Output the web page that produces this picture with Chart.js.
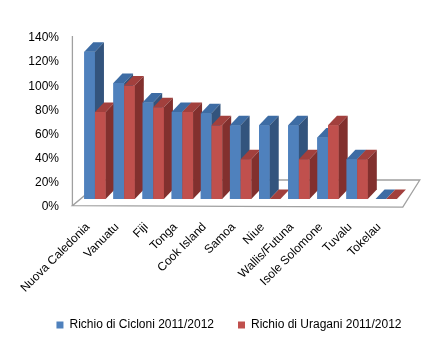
<!DOCTYPE html>
<html><head><meta charset="utf-8">
<script src="https://cdn.jsdelivr.net/npm/chart.js@4/dist/chart.umd.min.js"></script>
<style>html,body{margin:0;padding:0;background:#fff}#wrap{width:440px;height:342px}</style>
</head><body><div id="wrap"><canvas id="c" width="440" height="342"></canvas></div>
<script>
const categories = ['Nuova Caledonia','Vanuatu','Fiji','Tonga','Cook Island','Samoa','Niue','Wallis/Futuna','Isole Solomone','Tuvalu','Tokelau'];
const seriesNames = ['Richio di Cicloni 2011/2012','Richio di Uragani 2011/2012'];
const cicloni = [122,96,80,72,71,61,61,61,51,33,0];
const uragani = [72,94,76,72,61,33,0,33,61,33,0];
const yTicks = [0,20,40,60,80,100,120,140];

const FONT = {family: "'Liberation Sans', Arial, sans-serif", size: 12};
const DX = 9, DY = 9.5;

const bar3d = {
  id: 'bar3d',
  beforeDatasetsDraw(chart) {
    const {ctx, chartArea: a, scales} = chart;
    const yl = scales.y, yb = scales.yb;
    const base = yb.getPixelForValue(0);
    const fy = yl.getPixelForValue(0) - 1.3;
    const by = base - 19;
    const xl = a.left - 8;
    ctx.save();
    ctx.lineWidth = 1.3;
    ctx.strokeStyle = '#a0a0a0';
    ctx.beginPath();
    ctx.moveTo(xl, fy);
    ctx.lineTo(a.right + 2, fy + 1.5);
    ctx.lineTo(a.right + 19, by);
    ctx.lineTo(a.left + 23, by);
    ctx.closePath();
    ctx.fillStyle = '#fff';
    ctx.fill();
    ctx.stroke();
    ctx.beginPath();
    ctx.moveTo(xl, yl.getPixelForValue(yTicks[yTicks.length - 1]) - 2);
    ctx.lineTo(xl, fy);
    ctx.stroke();
    ctx.restore();
  },
  afterDatasetsDraw(chart) {
    const ctx = chart.ctx;
    const n = chart.data.labels.length;
    const metas = chart.data.datasets.map((d, i) => chart.getDatasetMeta(i));
    ctx.save();
    for (let i = 0; i < n; i++) {
      metas.forEach((meta, d) => {
        const ds = chart.data.datasets[d];
        const el = meta.data[i];
        if (!el) return;
        el.draw(ctx, chart.chartArea);
        const p = el.getProps(['x','y','base','width'], true);
        const l = p.x - p.width / 2, r = p.x + p.width / 2, t = p.y;
        ctx.fillStyle = ds.topColor;
        ctx.beginPath();
        ctx.moveTo(l, t); ctx.lineTo(l + DX, t - DY); ctx.lineTo(r + DX, t - DY); ctx.lineTo(r, t);
        ctx.closePath(); ctx.fill();
        ctx.fillStyle = ds.sideColor;
        ctx.beginPath();
        ctx.moveTo(r, t); ctx.lineTo(r + DX, t - DY); ctx.lineTo(r + DX, p.base - DY); ctx.lineTo(r, p.base);
        ctx.closePath(); ctx.fill();
      });
    }
    ctx.restore();
  }
};

new Chart(document.getElementById('c'), {
  type: 'bar',
  data: {
    labels: categories,
    datasets: [
      {label: seriesNames[0], data: cicloni, yAxisID: 'yb', backgroundColor: '#4F81BD', topColor: '#3D6CA4', sideColor: '#33547D', borderWidth: 0},
      {label: seriesNames[1], data: uragani, yAxisID: 'yb', backgroundColor: '#C0504D', topColor: '#A2403D', sideColor: '#82302E', borderWidth: 0}
    ]
  },
  options: {
    responsive: false,
    devicePixelRatio: 1,
    animation: false,
    events: [],
    layout: {padding: {left: 28, right: 10, top: 38, bottom: 1}},
    datasets: {bar: {categoryPercentage: 0.735, barPercentage: 1.0}},
    scales: {
      x: {
        grid: {display: false, drawTicks: false},
        border: {display: false},
        ticks: {autoSkip: false, minRotation: 45, maxRotation: 45, padding: 13, labelOffset: -7, color: '#000', font: FONT},
        afterFit(s) { s.height = 88; }
      },
      y: {
        position: 'left',
        min: yTicks[0], max: yTicks[yTicks.length - 1],
        grid: {display: false, drawTicks: false},
        border: {display: false},
        afterBuildTicks(s) { s.ticks = yTicks.map(v => ({value: v})); },
        ticks: {padding: 21.4, color: '#000', font: FONT, callback: v => v + '%'},
        afterFit(s) { s.width = 52.4; }
      },
      yr: {
        position: 'right',
        grid: {display: false, drawTicks: false},
        border: {display: false},
        ticks: {display: false},
        afterFit(s) { s.width = 29.2; }
      },
      yb: {
        display: false,
        min: -6.63, max: 133.37
      }
    },
    plugins: {
      legend: {
        position: 'bottom',
        labels: {boxWidth: 7, boxHeight: 7, padding: 24, color: '#000', font: FONT}
      },
      tooltip: {enabled: false}
    }
  },
  plugins: [bar3d]
});
</script>
</body></html>
